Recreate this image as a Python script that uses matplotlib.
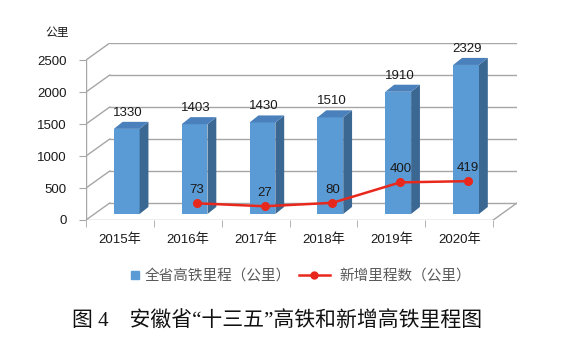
import matplotlib
matplotlib.use("Agg")
import matplotlib.pyplot as plt
from matplotlib.patches import Polygon
from matplotlib.lines import Line2D
import numpy as np

plt.rcParams['font.family'] = ['Liberation Sans', 'Noto Sans CJK SC']

# ---- data ----
categories = ["2015年", "2016年", "2017年", "2018年", "2019年", "2020年"]
total_km = [1330, 1403, 1430, 1510, 1910, 2329]
new_years = ["2016年", "2017年", "2018年", "2019年", "2020年"]
new_km = [73, 27, 80, 400, 419]
yticks = [0, 500, 1000, 1500, 2000, 2500]
bar_label = "全省高铁里程（公里）"
line_label = "新增里程数（公里）"
unit_label = "公里"
title = "图 4　安徽省“十三五”高铁和新增高铁里程图"

# ---- pseudo-3D geometry (data units) ----
DX, DY = 0.35, 266          # depth offset of back wall
BAR_OFF, BAR_BASE = 0.10, 94
BAR_W, BAR_DX, BAR_DY = 0.38, 0.13, 110
LINE_OFF, LINE_BASE = 0.13, 188

GRID = '#a6a6a6'
FRONT = '#5b9bd5'
TOP = '#4a80bb'
SIDE = '#3b6893'
RED = '#e8281c'

W, H = 575, 345
fig = plt.figure(figsize=(W / 100, H / 100), dpi=100)
ax = fig.add_axes([86 / W, (H - 220) / H, (517 - 86) / W, (220 - 43) / H])
n = len(categories)
x = np.arange(n)
ax.set_xlim(-0.5, n - 0.5 + DX)
ax.set_ylim(0, yticks[-1] + DY)
for s in ax.spines.values():
    s.set_visible(False)

# walls / grid
for v in yticks:
    ax.plot([-0.5, -0.5 + DX], [v, v + DY], color=GRID, lw=1.0, zorder=1)
    ax.plot([-0.5 + DX, n - 0.5 + DX], [v + DY, v + DY], color=GRID, lw=1.0, zorder=1)
ax.plot([-0.5, -0.5], [0, yticks[-1]], color=GRID, lw=1.0, zorder=1)
ax.plot([-0.5, n - 0.5], [0, 0], color=GRID, lw=1.0, zorder=1)
ax.plot([n - 0.5, n - 0.5 + DX], [0, DY], color=GRID, lw=1.0, zorder=1)

# bars
xb = x + BAR_OFF
ax.bar(xb, total_km, width=BAR_W, bottom=BAR_BASE, color=FRONT, zorder=3)
for xi, v in zip(xb, total_km):
    xl, xr = xi - BAR_W / 2, xi + BAR_W / 2
    top = BAR_BASE + v
    ax.add_patch(Polygon([(xr, BAR_BASE), (xr + BAR_DX, BAR_BASE + BAR_DY),
                          (xr + BAR_DX, top + BAR_DY), (xr, top)],
                         closed=True, facecolor=SIDE, edgecolor='none', zorder=3))
    ax.add_patch(Polygon([(xl, top), (xr, top), (xr + BAR_DX, top + BAR_DY),
                          (xl + BAR_DX, top + BAR_DY)],
                         closed=True, facecolor=TOP, edgecolor='none', zorder=3))
    ax.annotate(str(v), (xi + 0.02, top + BAR_DY), xytext=(0, 6.5), textcoords='offset points',
                ha='center', va='center', fontsize=9.5, color='#1a1a1a', zorder=5)

# line
xl_ = np.array([categories.index(c) for c in new_years]) + LINE_OFF
yl_ = np.array(new_km) + LINE_BASE
ax.plot(xl_, yl_, color=RED, lw=1.8, marker='o', markersize=5.5, zorder=4)
for xi, yi, v in zip(xl_, yl_, new_km):
    ax.annotate(str(v), (xi, yi), xytext=(0, 9.5), textcoords='offset points',
                ha='center', va='center', fontsize=9.5, color='#1a1a1a', zorder=5)

# ticks
ax.set_yticks(yticks)
ax.set_yticklabels([str(v) for v in yticks], fontsize=9.5, color='#1a1a1a')
ax.tick_params(axis='y', length=5, color=GRID, pad=9)
ax.set_xticks(x)
ax.set_xticklabels(categories, fontsize=9.5, color='#1a1a1a')
ax.tick_params(axis='x', length=0, pad=10)
ax.set_xticks(np.arange(n + 1) - 0.5, minor=True)
ax.tick_params(axis='x', which='minor', length=5, color=GRID)

fig.text(57 / W, 1 - 33 / H, unit_label, ha='center', va='center', fontsize=8.5, color='#1a1a1a')

# legend (two parts for different handle lengths)
fig.legend([Line2D([], [], marker='s', linestyle='none', color=FRONT, markersize=5.5)],
           [bar_label], loc='center left', bbox_to_anchor=(131 / W, 1 - 276 / H),
           frameon=False, fontsize=10.5, labelcolor='#595959', handlelength=0.6,
           handletextpad=0.3, borderpad=0, borderaxespad=0)
fig.legend([Line2D([], [], color=RED, lw=1.8, marker='o', markersize=5)],
           [line_label], loc='center left', bbox_to_anchor=(299 / W, 1 - 276 / H),
           frameon=False, fontsize=10.5, labelcolor='#595959', handlelength=2.1,
           handletextpad=0.7, borderpad=0, borderaxespad=0)

fig.text(72 / W, 1 - 322 / H, title, ha='left', va='center', fontsize=15, color='#111111',
         family=['Liberation Serif', 'Noto Sans CJK SC'])

fig.savefig("out.png", dpi=100)
